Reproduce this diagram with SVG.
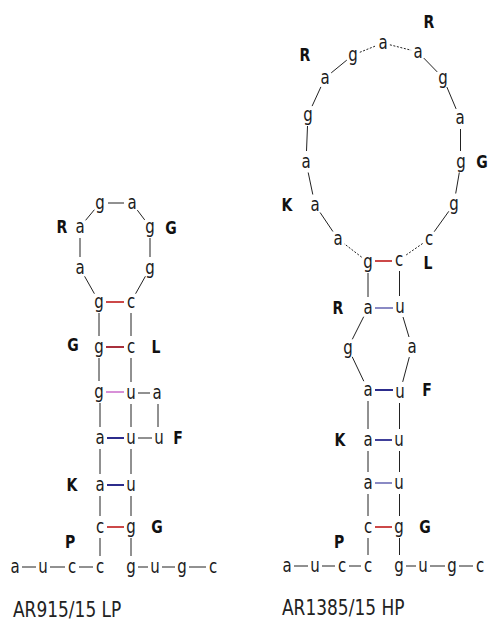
<svg xmlns="http://www.w3.org/2000/svg" width="488" height="622" viewBox="0 0 488 622">
  <style>
    .n { font-family: "DejaVu Sans", "Liberation Sans", sans-serif; font-size: 15px; text-anchor: middle; fill: #1a1a1a; }
    .b { font-family: "DejaVu Sans", "Liberation Sans", sans-serif; font-size: 14px; font-weight: bold; text-anchor: middle; fill: #111; }
    .t { font-family: "DejaVu Sans", "Liberation Sans", sans-serif; font-size: 17px; fill: #222; }
    .bb { stroke: #222; stroke-width: 1; fill: none; }
    .dot { stroke: #222; stroke-width: 1; stroke-dasharray: 2 1.6; fill: none; }
    .p { stroke-width: 2; fill: none; }
    .gc { stroke: #cc4848; }
    .gc2 { stroke: #a8303c; }
    .gu { stroke: #d890d8; }
    .au { stroke: #2c2c8c; }
    .au2 { stroke: #8a8ac4; }
  </style>
  <rect width="488" height="622" fill="#fff"/>

  <!-- backbone and base-pair connectors -->
  <g id="connectors">
    <!-- AR915/15 LP backbone -->
    <line class="bb" x1="108" y1="203" x2="124" y2="203"/>
    <line class="bb" x1="85.6" y1="220.3" x2="94.4" y2="209.7"/>
    <line class="bb" x1="137.3" y1="210.1" x2="144.7" y2="219.9"/>
    <line class="bb" x1="80" y1="238" x2="80" y2="257"/>
    <line class="bb" x1="150" y1="238" x2="150" y2="257"/>
    <line class="bb" x1="84.6" y1="276.3" x2="94.4" y2="293.7"/>
    <line class="bb" x1="145.4" y1="276.3" x2="135.6" y2="293.7"/>
    <line class="bb" x1="99" y1="313" x2="99" y2="336"/>
    <line class="bb" x1="131" y1="313" x2="131" y2="336"/>
    <line class="bb" x1="99" y1="358" x2="99" y2="381"/>
    <line class="bb" x1="131" y1="358" x2="131" y2="382"/>
    <line class="bb" x1="138" y1="393" x2="150" y2="393"/>
    <line class="bb" x1="158" y1="404" x2="158" y2="427"/>
    <line class="bb" x1="100" y1="403" x2="100" y2="427"/>
    <line class="bb" x1="131" y1="404" x2="131" y2="427"/>
    <line class="bb" x1="138" y1="438" x2="152" y2="438"/>
    <line class="bb" x1="100" y1="449" x2="100" y2="474"/>
    <line class="bb" x1="131" y1="449" x2="131" y2="474"/>
    <line class="bb" x1="100" y1="496" x2="100" y2="516"/>
    <line class="bb" x1="131" y1="496" x2="131" y2="516"/>
    <line class="bb" x1="100" y1="538" x2="100" y2="556"/>
    <line class="bb" x1="131" y1="538" x2="131" y2="556"/>
    <line class="bb" x1="22" y1="567" x2="36" y2="567"/>
    <line class="bb" x1="50" y1="567" x2="65" y2="567"/>
    <line class="bb" x1="79" y1="567" x2="93" y2="567"/>
    <line class="bb" x1="138" y1="567" x2="148" y2="567"/>
    <line class="bb" x1="162" y1="567" x2="175" y2="567"/>
    <line class="bb" x1="189" y1="567" x2="206" y2="567"/>
    <!-- AR915/15 LP base pairs -->
    <line class="p gc" x1="106" y1="302" x2="124" y2="302"/>
    <line class="p gc2" x1="106" y1="347" x2="124" y2="347"/>
    <line class="p gu" x1="106" y1="392" x2="124" y2="392"/>
    <line class="p au" x1="107" y1="438" x2="124" y2="438"/>
    <line class="p au" x1="107" y1="485" x2="124" y2="485"/>
    <line class="p gc" x1="107" y1="527" x2="124" y2="527"/>

    <!-- AR1385/15 HP backbone -->
    <line class="dot" x1="361.7" y1="257.2" x2="344.3" y2="243.8"/>
    <line class="bb" x1="332.9" y1="231.5" x2="320.1" y2="212.5"/>
    <line class="bb" x1="312.8" y1="194.5" x2="308.2" y2="172.5"/>
    <line class="bb" x1="306.5" y1="151" x2="307.5" y2="126"/>
    <line class="bb" x1="312.1" y1="106.1" x2="320.9" y2="86.9"/>
    <line class="bb" x1="331.2" y1="72.9" x2="346.8" y2="60.1"/>
    <line class="dot" x1="359.8" y1="52.3" x2="376.2" y2="45.7"/>
    <line class="dot" x1="389.9" y1="44.8" x2="411.1" y2="50.2"/>
    <line class="bb" x1="423.8" y1="58.1" x2="437.2" y2="71.9"/>
    <line class="bb" x1="446.9" y1="87.1" x2="456.1" y2="108.9"/>
    <line class="bb" x1="460.5" y1="129" x2="460.5" y2="151"/>
    <line class="bb" x1="459.3" y1="172.5" x2="455.7" y2="193.5"/>
    <line class="bb" x1="448.8" y1="211.3" x2="434.2" y2="231.7"/>
    <line class="dot" x1="422.6" y1="243.5" x2="405.4" y2="255.5"/>
    <line class="bb" x1="368" y1="273" x2="368" y2="297"/>
    <line class="bb" x1="399.5" y1="271" x2="399.5" y2="296"/>
    <line class="bb" x1="363.7" y1="316.7" x2="352.3" y2="339.3"/>
    <line class="bb" x1="352.2" y1="356.8" x2="363.8" y2="381.2"/>
    <line class="bb" x1="403" y1="317" x2="409" y2="337"/>
    <line class="bb" x1="409.3" y1="357.1" x2="402.7" y2="381.9"/>
    <line class="bb" x1="368" y1="401" x2="368" y2="429"/>
    <line class="bb" x1="399.5" y1="403" x2="399.5" y2="429"/>
    <line class="bb" x1="368" y1="451" x2="368" y2="472"/>
    <line class="bb" x1="399.5" y1="451" x2="399.5" y2="472"/>
    <line class="bb" x1="368" y1="494" x2="368" y2="516"/>
    <line class="bb" x1="399.5" y1="494" x2="399.5" y2="516"/>
    <line class="bb" x1="368" y1="538" x2="368" y2="555"/>
    <line class="bb" x1="399.5" y1="538" x2="399.5" y2="555"/>
    <line class="bb" x1="294" y1="566" x2="308" y2="566"/>
    <line class="bb" x1="322" y1="566" x2="335" y2="566"/>
    <line class="bb" x1="349" y1="566" x2="361" y2="566"/>
    <line class="bb" x1="406" y1="566" x2="416" y2="566"/>
    <line class="bb" x1="430" y1="566" x2="445" y2="566"/>
    <line class="bb" x1="459" y1="566" x2="473" y2="566"/>
    <!-- AR1385/15 HP base pairs -->
    <line class="p gc" x1="375" y1="261" x2="392" y2="261"/>
    <line class="p au2" x1="375" y1="308" x2="393" y2="308"/>
    <line class="p au" x1="375" y1="390" x2="393" y2="390"/>
    <line class="p au" x1="375" y1="440" x2="392" y2="440" style="stroke:#40409a"/>
    <line class="p au2" x1="375" y1="483" x2="392" y2="483"/>
    <line class="p gc" x1="375" y1="527" x2="392" y2="527"/>
  </g>

  <!-- AR915/15 LP nucleotides -->
  <g id="lp-n01"><text class="n" transform="translate(100 208.5) scale(1 1.35)">g</text></g>
  <g id="lp-n02"><text class="n" transform="translate(132 208.5) scale(1 1.35)">a</text></g>
  <g id="lp-n03"><text class="n" transform="translate(80 232.5) scale(1 1.35)">a</text></g>
  <g id="lp-n04"><text class="n" transform="translate(150 232.5) scale(1 1.35)">g</text></g>
  <g id="lp-n05"><text class="n" transform="translate(80 273.5) scale(1 1.35)">a</text></g>
  <g id="lp-n06"><text class="n" transform="translate(150 273.5) scale(1 1.35)">g</text></g>
  <g id="lp-n07"><text class="n" transform="translate(99 307.5) scale(1 1.35)">g</text></g>
  <g id="lp-n08"><text class="n" transform="translate(131 307.5) scale(1 1.35)">c</text></g>
  <g id="lp-n09"><text class="n" transform="translate(99 352.5) scale(1 1.35)">g</text></g>
  <g id="lp-n10"><text class="n" transform="translate(131 352.5) scale(1 1.35)">c</text></g>
  <g id="lp-n11"><text class="n" transform="translate(99 397.5) scale(1 1.35)">g</text></g>
  <g id="lp-n12"><text class="n" transform="translate(131 398.5) scale(1 1.35)">u</text></g>
  <g id="lp-n13"><text class="n" transform="translate(157 398.5) scale(1 1.35)">a</text></g>
  <g id="lp-n14"><text class="n" transform="translate(100 443.5) scale(1 1.35)">a</text></g>
  <g id="lp-n15"><text class="n" transform="translate(131 443.5) scale(1 1.35)">u</text></g>
  <g id="lp-n16"><text class="n" transform="translate(159 443.5) scale(1 1.35)">u</text></g>
  <g id="lp-n17"><text class="n" transform="translate(100 490.5) scale(1 1.35)">a</text></g>
  <g id="lp-n18"><text class="n" transform="translate(131 490.5) scale(1 1.35)">u</text></g>
  <g id="lp-n19"><text class="n" transform="translate(100 532.5) scale(1 1.35)">c</text></g>
  <g id="lp-n20"><text class="n" transform="translate(131 532.5) scale(1 1.35)">g</text></g>
  <g id="lp-n21"><text class="n" transform="translate(15 572.5) scale(1 1.35)">a</text></g>
  <g id="lp-n22"><text class="n" transform="translate(43 572.5) scale(1 1.35)">u</text></g>
  <g id="lp-n23"><text class="n" transform="translate(72 572.5) scale(1 1.35)">c</text></g>
  <g id="lp-n24"><text class="n" transform="translate(100 572.5) scale(1 1.35)">c</text></g>
  <g id="lp-n25"><text class="n" transform="translate(131 572.5) scale(1 1.35)">g</text></g>
  <g id="lp-n26"><text class="n" transform="translate(155 572.5) scale(1 1.35)">u</text></g>
  <g id="lp-n27"><text class="n" transform="translate(182 572.5) scale(1 1.35)">g</text></g>
  <g id="lp-n28"><text class="n" transform="translate(213 572.5) scale(1 1.35)">c</text></g>

  <!-- AR915/15 LP motif letters -->
  <g id="lp-R"><text class="b" transform="translate(62 233) scale(1 1.2)">R</text></g>
  <g id="lp-G1"><text class="b" transform="translate(171 234) scale(1 1.2)">G</text></g>
  <g id="lp-G2"><text class="b" transform="translate(73 351) scale(1 1.2)">G</text></g>
  <g id="lp-L"><text class="b" transform="translate(156 353) scale(1 1.2)">L</text></g>
  <g id="lp-F"><text class="b" transform="translate(178 444) scale(1 1.2)">F</text></g>
  <g id="lp-K"><text class="b" transform="translate(72 491) scale(1 1.2)">K</text></g>
  <g id="lp-G3"><text class="b" transform="translate(157 533) scale(1 1.2)">G</text></g>
  <g id="lp-P"><text class="b" transform="translate(70 548) scale(1 1.2)">P</text></g>
  <g id="lp-title"><text class="t" transform="translate(13 617) scale(1 1.2)">AR915/15 LP</text></g>

  <!-- AR1385/15 HP nucleotides -->
  <g id="hp-n01"><text class="n" transform="translate(368 267.5) scale(1 1.35)">g</text></g>
  <g id="hp-n02"><text class="n" transform="translate(338 244.5) scale(1 1.35)">a</text></g>
  <g id="hp-n03"><text class="n" transform="translate(315 210.5) scale(1 1.35)">a</text></g>
  <g id="hp-n04"><text class="n" transform="translate(306 167.5) scale(1 1.35)">a</text></g>
  <g id="hp-n05"><text class="n" transform="translate(308 120.5) scale(1 1.35)">g</text></g>
  <g id="hp-n06"><text class="n" transform="translate(325 83.5) scale(1 1.35)">a</text></g>
  <g id="hp-n07"><text class="n" transform="translate(353 60.5) scale(1 1.35)">g</text></g>
  <g id="hp-n08"><text class="n" transform="translate(383 48.5) scale(1 1.35)">a</text></g>
  <g id="hp-n09"><text class="n" transform="translate(418 57.5) scale(1 1.35)">a</text></g>
  <g id="hp-n10"><text class="n" transform="translate(443 83.5) scale(1 1.35)">g</text></g>
  <g id="hp-n11"><text class="n" transform="translate(460 123.5) scale(1 1.35)">a</text></g>
  <g id="hp-n12"><text class="n" transform="translate(461 167.5) scale(1 1.35)">g</text></g>
  <g id="hp-n13"><text class="n" transform="translate(454 209.5) scale(1 1.35)">g</text></g>
  <g id="hp-n14"><text class="n" transform="translate(429 244.5) scale(1 1.35)">c</text></g>
  <g id="hp-n15"><text class="n" transform="translate(399 265.5) scale(1 1.35)">c</text></g>
  <g id="hp-n16"><text class="n" transform="translate(368 313.5) scale(1 1.35)">a</text></g>
  <g id="hp-n17"><text class="n" transform="translate(400 312.5) scale(1 1.35)">u</text></g>
  <g id="hp-n18"><text class="n" transform="translate(348 353.5) scale(1 1.35)">g</text></g>
  <g id="hp-n19"><text class="n" transform="translate(412 352.5) scale(1 1.35)">a</text></g>
  <g id="hp-n20"><text class="n" transform="translate(368 395.5) scale(1 1.35)">a</text></g>
  <g id="hp-n21"><text class="n" transform="translate(400 397.5) scale(1 1.35)">u</text></g>
  <g id="hp-n22"><text class="n" transform="translate(368 445.5) scale(1 1.35)">a</text></g>
  <g id="hp-n23"><text class="n" transform="translate(399 445.5) scale(1 1.35)">u</text></g>
  <g id="hp-n24"><text class="n" transform="translate(368 488.5) scale(1 1.35)">a</text></g>
  <g id="hp-n25"><text class="n" transform="translate(399 488.5) scale(1 1.35)">u</text></g>
  <g id="hp-n26"><text class="n" transform="translate(368 532.5) scale(1 1.35)">c</text></g>
  <g id="hp-n27"><text class="n" transform="translate(399 532.5) scale(1 1.35)">g</text></g>
  <g id="hp-n28"><text class="n" transform="translate(287 571.5) scale(1 1.35)">a</text></g>
  <g id="hp-n29"><text class="n" transform="translate(315 571.5) scale(1 1.35)">u</text></g>
  <g id="hp-n30"><text class="n" transform="translate(342 571.5) scale(1 1.35)">c</text></g>
  <g id="hp-n31"><text class="n" transform="translate(368 571.5) scale(1 1.35)">c</text></g>
  <g id="hp-n32"><text class="n" transform="translate(399 571.5) scale(1 1.35)">g</text></g>
  <g id="hp-n33"><text class="n" transform="translate(423 571.5) scale(1 1.35)">u</text></g>
  <g id="hp-n34"><text class="n" transform="translate(452 571.5) scale(1 1.35)">g</text></g>
  <g id="hp-n35"><text class="n" transform="translate(480 571.5) scale(1 1.35)">c</text></g>

  <!-- AR1385/15 HP motif letters -->
  <g id="hp-R1"><text class="b" transform="translate(429 28) scale(1 1.2)">R</text></g>
  <g id="hp-R2"><text class="b" transform="translate(305 61) scale(1 1.2)">R</text></g>
  <g id="hp-G1"><text class="b" transform="translate(482 168) scale(1 1.2)">G</text></g>
  <g id="hp-K1"><text class="b" transform="translate(287 211) scale(1 1.2)">K</text></g>
  <g id="hp-L"><text class="b" transform="translate(428 269) scale(1 1.2)">L</text></g>
  <g id="hp-R3"><text class="b" transform="translate(338 314) scale(1 1.2)">R</text></g>
  <g id="hp-F"><text class="b" transform="translate(427 396) scale(1 1.2)">F</text></g>
  <g id="hp-K2"><text class="b" transform="translate(340 446) scale(1 1.2)">K</text></g>
  <g id="hp-G2"><text class="b" transform="translate(425 533) scale(1 1.2)">G</text></g>
  <g id="hp-P"><text class="b" transform="translate(339 548) scale(1 1.2)">P</text></g>
  <g id="hp-title"><text class="t" transform="translate(282 615) scale(1 1.2)">AR1385/15 HP</text></g>
</svg>
